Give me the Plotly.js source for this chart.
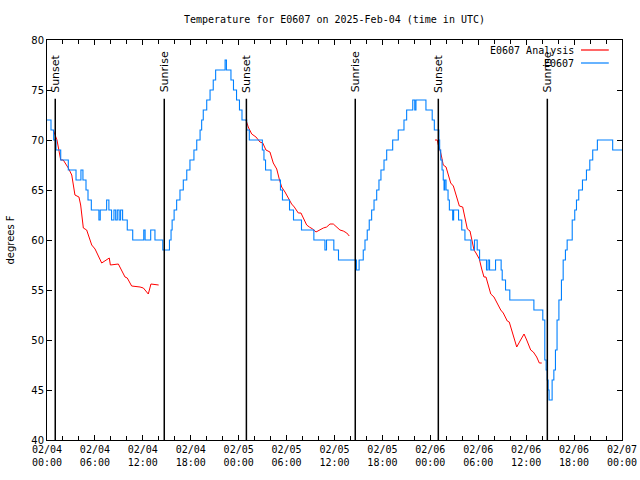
<!DOCTYPE html>
<html>
<head>
<meta charset="utf-8">
<script src="https://cdn.plot.ly/plotly-3.0.1.min.js"></script>
<style>html,body{margin:0;padding:0;background:#fff;}#chart{width:640px;height:480px;}</style>
</head>
<body>
<div id="chart"></div>
<script>
// Observed temperature (E0607), degrees F
const obsTimes = [
 '2025-02-04 00:00','2025-02-04 00:30','2025-02-04 00:50','2025-02-04 01:08','2025-02-04 01:43','2025-02-04 02:40',
 '2025-02-04 03:38','2025-02-04 04:15','2025-02-04 04:30','2025-02-04 04:53','2025-02-04 05:08','2025-02-04 05:33',
 '2025-02-04 06:30','2025-02-04 06:40','2025-02-04 07:28','2025-02-04 07:45','2025-02-04 08:05','2025-02-04 08:23',
 '2025-02-04 08:36','2025-02-04 08:48','2025-02-04 09:02','2025-02-04 09:13','2025-02-04 09:28','2025-02-04 10:03',
 '2025-02-04 10:44','2025-02-04 12:07','2025-02-04 12:17','2025-02-04 12:59','2025-02-04 13:31','2025-02-04 14:30',
 '2025-02-04 15:20','2025-02-04 15:32','2025-02-04 15:40','2025-02-04 15:55','2025-02-04 16:14','2025-02-04 16:39',
 '2025-02-04 17:04','2025-02-04 17:30','2025-02-04 17:54','2025-02-04 18:24','2025-02-04 18:45','2025-02-04 19:10',
 '2025-02-04 19:22','2025-02-04 19:34','2025-02-04 20:00','2025-02-04 20:25','2025-02-04 20:49','2025-02-04 21:07',
 '2025-02-04 22:18','2025-02-04 22:28','2025-02-04 23:02','2025-02-04 23:21','2025-02-04 23:44',
 '2025-02-05 00:06','2025-02-05 00:25','2025-02-05 01:00','2025-02-05 01:20','2025-02-05 02:58','2025-02-05 03:10',
 '2025-02-05 03:22','2025-02-05 04:03','2025-02-05 05:14','2025-02-05 05:29','2025-02-05 06:22','2025-02-05 06:52',
 '2025-02-05 07:52','2025-02-05 09:25','2025-02-05 10:48','2025-02-05 11:00','2025-02-05 11:55','2025-02-05 12:30',
 '2025-02-05 14:45','2025-02-05 15:05','2025-02-05 15:36','2025-02-05 15:49','2025-02-05 16:06','2025-02-05 16:21',
 '2025-02-05 16:39','2025-02-05 16:57','2025-02-05 17:17','2025-02-05 17:34','2025-02-05 17:49','2025-02-05 18:12',
 '2025-02-05 18:32','2025-02-05 19:17','2025-02-05 19:59','2025-02-05 20:42','2025-02-05 21:02','2025-02-05 21:48',
 '2025-02-05 22:03','2025-02-05 22:12','2025-02-05 23:27',
 '2025-02-06 00:14','2025-02-06 00:30','2025-02-06 01:04','2025-02-06 01:10','2025-02-06 01:18','2025-02-06 01:28',
 '2025-02-06 01:37','2025-02-06 01:43','2025-02-06 01:48','2025-02-06 01:58','2025-02-06 02:13','2025-02-06 02:23',
 '2025-02-06 02:48','2025-02-06 02:55','2025-02-06 03:32','2025-02-06 03:56','2025-02-06 04:20','2025-02-06 05:05',
 '2025-02-06 05:32','2025-02-06 05:52','2025-02-06 06:10','2025-02-06 07:02','2025-02-06 07:14','2025-02-06 07:25',
 '2025-02-06 08:10','2025-02-06 08:52','2025-02-06 09:00','2025-02-06 09:25','2025-02-06 09:57','2025-02-06 12:58',
 '2025-02-06 14:05','2025-02-06 14:20','2025-02-06 14:30','2025-02-06 14:38','2025-02-06 14:45','2025-02-06 14:52',
 '2025-02-06 15:15','2025-02-06 15:28','2025-02-06 15:40','2025-02-06 15:52','2025-02-06 16:06','2025-02-06 16:25',
 '2025-02-06 16:38','2025-02-06 16:55','2025-02-06 17:08','2025-02-06 17:46','2025-02-06 18:05','2025-02-06 18:18',
 '2025-02-06 18:35','2025-02-06 19:03','2025-02-06 19:33','2025-02-06 19:58','2025-02-06 20:20','2025-02-06 20:55',
 '2025-02-06 22:50','2025-02-07 00:00'
];
const obsTemps = [
 72,71,70,69,68,67,
 66,67,66,65,64,63,
 62,63,64,63,62,63,
 62,63,62,63,62,61,
 60,61,60,61,60,59,
 60,61,62,63,64,65,
 66,67,68,69,70,71,
 72,73,74,75,76,77,
 78,77,76,75,74,
 73,72,71,70,69,68,
 67,66,65,64,63,62,
 61,60,59,60,59,58,
 57,58,59,60,61,62,
 63,64,65,66,67,68,
 69,70,71,72,73,74,
 73,74,73,
 72,71,70,69,68,67,
 66,65,66,65,64,63,
 62,63,62,61,60,59,
 60,59,58,57,58,57,
 58,57,56,55,54,53,
 52,48,47,46,45,44,
 46,47,49,52,54,56,
 58,59,60,62,63,64,
 65,66,67,68,69,70,
 69,69
];

// Analysis temperature (E0607 Analysis), degrees F; null separates the nightly runs
const anaTimes = [
 '2025-02-04 00:47','2025-02-04 01:00','2025-02-04 01:15','2025-02-04 01:43','2025-02-04 02:02','2025-02-04 02:40',
 '2025-02-04 03:06','2025-02-04 03:30','2025-02-04 04:00','2025-02-04 04:13','2025-02-04 04:33','2025-02-04 04:58',
 '2025-02-04 05:36','2025-02-04 06:01','2025-02-04 06:38','2025-02-04 06:51','2025-02-04 07:48','2025-02-04 07:56',
 '2025-02-04 08:56','2025-02-04 09:46','2025-02-04 10:03','2025-02-04 10:36','2025-02-04 11:39','2025-02-04 12:04',
 '2025-02-04 12:41','2025-02-04 13:01','2025-02-04 13:59',
 '2025-02-04 18:00',
 '2025-02-05 00:55','2025-02-05 01:12','2025-02-05 01:38','2025-02-05 02:10','2025-02-05 02:40','2025-02-05 03:01',
 '2025-02-05 03:25','2025-02-05 03:55','2025-02-05 04:20','2025-02-05 04:46','2025-02-05 05:05','2025-02-05 05:23',
 '2025-02-05 05:48','2025-02-05 06:13','2025-02-05 06:38','2025-02-05 06:58','2025-02-05 07:28','2025-02-05 07:48',
 '2025-02-05 08:06','2025-02-05 08:31','2025-02-05 08:51','2025-02-05 09:16','2025-02-05 09:41','2025-02-05 10:06',
 '2025-02-05 10:36','2025-02-05 11:01','2025-02-05 11:26','2025-02-05 11:51','2025-02-05 12:17','2025-02-05 12:41',
 '2025-02-05 13:06','2025-02-05 13:32','2025-02-05 13:51',
 '2025-02-05 18:00',
 '2025-02-06 00:35','2025-02-06 00:52','2025-02-06 01:00','2025-02-06 01:13','2025-02-06 01:25','2025-02-06 01:37',
 '2025-02-06 01:58','2025-02-06 02:15','2025-02-06 02:33','2025-02-06 02:53','2025-02-06 03:05','2025-02-06 03:23',
 '2025-02-06 03:38','2025-02-06 04:03','2025-02-06 04:20','2025-02-06 04:38','2025-02-06 04:58','2025-02-06 05:11',
 '2025-02-06 05:28','2025-02-06 05:43','2025-02-06 06:08','2025-02-06 06:26','2025-02-06 06:43','2025-02-06 06:58',
 '2025-02-06 07:16','2025-02-06 07:34','2025-02-06 07:58','2025-02-06 08:23','2025-02-06 08:49','2025-02-06 09:08',
 '2025-02-06 09:38','2025-02-06 09:53','2025-02-06 10:19','2025-02-06 10:49','2025-02-06 11:14','2025-02-06 11:44',
 '2025-02-06 12:04','2025-02-06 12:34','2025-02-06 12:54','2025-02-06 13:19','2025-02-06 13:39','2025-02-06 13:57'
];
const anaTemps = [
 71,70.5,70,68,68,67.2,
 66.5,64.5,64.3,63.5,61.2,61,
 59.5,59.1,58,57.7,58.2,57.5,
 57.6,56.3,56.2,55.4,55.3,55.2,
 54.6,55.6,55.5,
 null,
 72,71.3,70.6,70.3,69.8,69.7,
 69,68.8,67.7,67.1,66.1,65.3,
 64.8,64.2,63.6,63.3,62.7,62.7,
 62.2,61.5,61.3,61.1,60.8,61,
 61.2,61.3,61.6,61.6,61.3,61,
 60.9,60.7,60.4,
 null,
 70,70,69.5,69,68.3,67.5,
 67.3,66.5,65.7,65.4,64.8,64,
 63.4,63.3,62.1,61.1,60.9,60,
 59,58.7,58.1,57.1,56.3,56.3,
 55.3,54.6,54.3,53.6,53,52.7,
 51.9,51.8,50.6,49.3,49.9,50.6,
 50,49,48.8,48.3,47.7,47.7
];

// Sun events (UTC)
const eventTimes = ['2025-02-04 01:02','2025-02-04 14:41','2025-02-05 00:58','2025-02-05 14:36','2025-02-06 01:00','2025-02-06 14:39'];
const eventLabels = ['Sunset','Sunrise','Sunset','Sunrise','Sunset','Sunrise'];

const seriesNames = ['E0607 Analysis','E0607'];
const seriesColors = ['#ff0000','#0080ff'];

const traces = [
  {x: anaTimes, y: anaTemps, type:'scatter', mode:'lines', name: seriesNames[0],
   line:{color: seriesColors[0], width:1}, connectgaps:false},
  {x: obsTimes, y: obsTemps, type:'scatter', mode:'lines', name: seriesNames[1],
   line:{color: seriesColors[1], width:1.1, shape:'hv'}}
];

const shapes = [];
const annotations = [];
eventTimes.forEach((t,i)=>{
  shapes.push({type:'line', xref:'x', yref:'paper', x0:t, x1:t, y0:0, y1:0.853,
               line:{color:'#000', width:1.5}});
  annotations.push({xref:'x', yref:'paper', x:t, y:0.866, xanchor:'center', yanchor:'bottom',
               textangle:-90, text:eventLabels[i], showarrow:false,
               font:{family:'DejaVu Sans', size:11, color:'#000'}, borderpad:0});
});
// key (gnuplot style: text then line sample)
const keyY = [0.975, 0.9425];
seriesNames.forEach((n,i)=>{
  annotations.push({xref:'paper', yref:'paper', x:0.919, y:keyY[i], xanchor:'right', yanchor:'middle',
    text:n, showarrow:false, font:{family:'DejaVu Sans Mono', size:10, color:'#000'}, borderpad:0});
  shapes.push({type:'line', xref:'paper', yref:'paper', x0:0.9287, x1:0.977, y0:keyY[i], y1:keyY[i],
    line:{color:seriesColors[i], width:1.2}});
});

const layout = {
  width:640, height:480,
  margin:{l:47, r:18, t:40, b:40, pad:0},
  paper_bgcolor:'#fff', plot_bgcolor:'#fff',
  showlegend:false,
  font:{family:'DejaVu Sans Mono', size:10, color:'#000'},
  title:{text:'Temperature for E0607 on 2025-Feb-04 (time in UTC)', x:0.5, xref:'paper',
         y:1-19/480, yref:'container', yanchor:'middle', font:{family:'DejaVu Sans Mono', size:10, color:'#000'}},
  xaxis:{type:'date', range:['2025-02-04 00:00','2025-02-07 00:00'], tick0:'2025-02-04 00:00', dtick:21600000,
         tickformat:'%m/%d<br>%H:%M', ticks:'inside', ticklen:5, tickcolor:'#000', tickwidth:1,
         showline:true, linecolor:'#000', linewidth:1, mirror:'allticks', showgrid:false, zeroline:false,
         minor:{dtick:7200000, ticks:'inside', ticklen:4, tickcolor:'#000', showgrid:false},
         tickfont:{family:'DejaVu Sans Mono', size:10, color:'#000'}},
  yaxis:{range:[40,80], dtick:5, ticks:'inside', ticklen:5, tickcolor:'#000', tickwidth:1,
         showline:true, linecolor:'#000', linewidth:1, mirror:'allticks', showgrid:false, zeroline:false,
         tickfont:{family:'DejaVu Sans', size:10, color:'#000'},
         title:{text:'degrees F', font:{family:'DejaVu Sans', size:10, color:'#000'}, standoff:14}},
  shapes: shapes,
  annotations: annotations
};

Plotly.newPlot('chart', traces, layout, {displayModeBar:false, staticPlot:true});
</script>
</body>
</html>
